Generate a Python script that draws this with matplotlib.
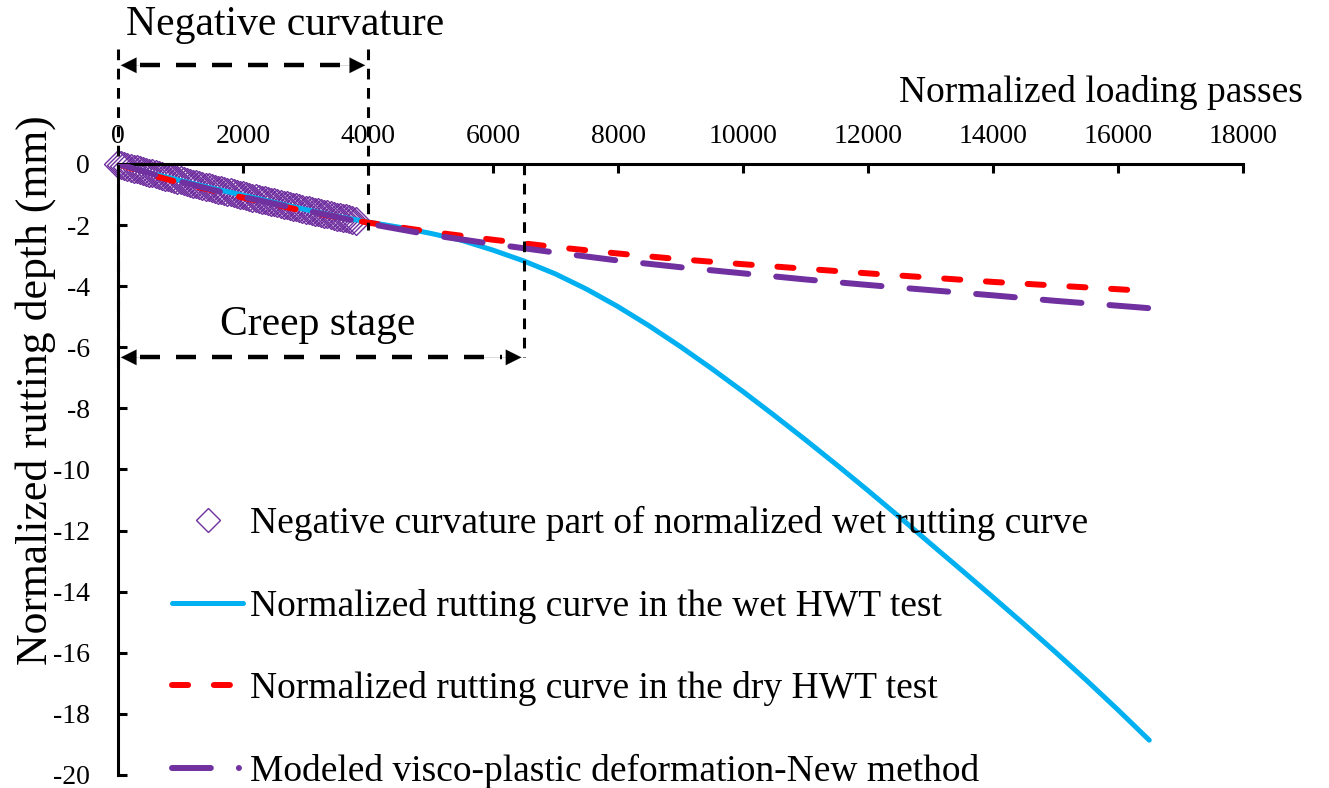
"""
Normalized rutting curves: wet vs. dry HWT test and modeled visco-plastic deformation.
Output: out.png
"""
import matplotlib
matplotlib.use("Agg")
import matplotlib.pyplot as plt
from matplotlib.lines import Line2D

plt.rcParams["font.family"] = ["Liberation Serif", "DejaVu Serif"]
plt.rcParams["axes.unicode_minus"] = False

PURPLE = "#7030A0"
CYAN = "#00B0F0"
RED = "#FF0000"

# 負曲率部分 (湿潤試験の正規化曲線, 0-3800 passes, 50 passes 毎)
neg_x = list(range(0, 3801, 50))
neg_y = [0.00, -0.03, -0.07, -0.10, -0.12, -0.15, -0.18, -0.21, -0.23, -0.26,
         -0.29, -0.31, -0.34, -0.36, -0.39, -0.41, -0.44, -0.47, -0.49, -0.52,
         -0.54, -0.57, -0.59, -0.62, -0.64, -0.67, -0.69, -0.72, -0.74, -0.76,
         -0.79, -0.81, -0.84, -0.86, -0.88, -0.91, -0.93, -0.95, -0.98, -1.00,
         -1.02, -1.05, -1.07, -1.10, -1.12, -1.14, -1.17, -1.19, -1.21, -1.24,
         -1.26, -1.28, -1.30, -1.33, -1.35, -1.37, -1.40, -1.42, -1.44, -1.47,
         -1.49, -1.51, -1.53, -1.56, -1.58, -1.60, -1.63, -1.65, -1.67, -1.70,
         -1.72, -1.74, -1.76, -1.78, -1.80, -1.83, -1.85]

# 湿潤 HWT 試験
wet_x = [0, 500, 1000, 1500, 2000, 2500, 3000, 3500, 4000, 4500,
         5000, 5500, 6000, 6500, 7000, 7500, 8000, 8500, 9000, 9500,
         10000, 10500, 11000, 11500, 12000, 12500, 13000, 13500, 14000, 14500,
         15000, 15500, 16000, 16500]
wet_y = [0.0, -0.29, -0.54, -0.79, -1.02, -1.26, -1.49, -1.71, -1.90, -2.07,
         -2.27, -2.50, -2.82, -3.18, -3.60, -4.10, -4.67, -5.30, -5.98, -6.70,
         -7.45, -8.23, -9.03, -9.85, -10.69, -11.55, -12.43, -13.30, -14.18, -15.07,
         -15.98, -16.91, -17.87, -18.86]

# 乾燥 HWT 試験
dry_x = [0, 500, 1000, 2000, 3000, 4000, 5000, 6000, 7000, 8000,
         9000, 10000, 11000, 12000, 13000, 14000, 15000, 16000, 16500]
dry_y = [0.0, -0.34, -0.62, -1.10, -1.55, -1.92, -2.22, -2.48, -2.72, -2.93,
         -3.12, -3.28, -3.43, -3.58, -3.72, -3.86, -3.98, -4.10, -4.16]

# 粘塑性変形モデル (New method)
model_x = [0, 500, 1000, 1500, 2000, 3000, 4000, 5000, 6000, 7000,
           8000, 9000, 10000, 11000, 12000, 13000, 14000, 15000, 16000, 16500]
model_y = [0.0, -0.30, -0.58, -0.84, -1.08, -1.52, -1.95, -2.32, -2.62, -2.90,
           -3.16, -3.38, -3.58, -3.78, -3.96, -4.13, -4.30, -4.48, -4.64, -4.72]

labels = [
    "Negative curvature part of normalized wet rutting curve",
    "Normalized rutting curve in the wet HWT test",
    "Normalized rutting curve in the dry HWT test",
    "Modeled visco-plastic deformation-New method",
]

x_ticks = list(range(0, 18001, 2000))
y_ticks = list(range(-20, 1, 2))

# 区間境界 (passes)
NEG_CURV_END = 4000
CREEP_END = 6500


def dashed_arrow(ax, x0, x1, y):
    """両端矢印付きの破線"""
    ax.plot([x0 + 350, x1 - 350], [y, y], color="black", lw=3.2,
            dashes=(4.5, 3.6), clip_on=False, zorder=6)
    for tip, tail in ((x0, x0 + 700), (x1, x1 - 700)):
        ax.annotate("", xy=(tip, y), xytext=(tail, y),
                    arrowprops=dict(arrowstyle="-|>", color="black", lw=0.1,
                                    mutation_scale=28),
                    annotation_clip=False, zorder=6)


fig = plt.figure(figsize=(13.29, 7.88), dpi=100)
ax = fig.add_axes([0.0888, 0.0165, 0.8465, 0.7754])

ax.plot(neg_x, neg_y, linestyle="none", marker="D", markersize=14.5,
        markerfacecolor="none", markeredgecolor=PURPLE, markeredgewidth=1.0,
        zorder=2, clip_on=False)
ax.plot(wet_x, wet_y, color=CYAN, lw=3.6, solid_capstyle="round",
        solid_joinstyle="round", zorder=3)
ax.plot(dry_x, dry_y, color=RED, lw=4.3, dashes=(2.7, 4.3),
        dash_capstyle="round", zorder=4)
ax.plot(model_x, model_y, color=PURPLE, lw=4.3, dashes=(6.5, 4.7),
        dash_capstyle="round", zorder=5)

ax.set_xlim(0, 18000)
ax.set_ylim(-20, 0)
ax.set_xticks(x_ticks)
ax.set_yticks(y_ticks)
ax.xaxis.set_ticks_position("top")
ax.tick_params(axis="x", direction="in", length=6.5, width=2.2, pad=11, labelsize=20)
ax.tick_params(axis="y", direction="in", length=6.5, width=2.2, pad=20, labelsize=20)
for side in ("right", "bottom"):
    ax.spines[side].set_visible(False)
for side in ("left", "top"):
    ax.spines[side].set_linewidth(2.2)

fig.text(0.980, 0.882, "Normalized loading passes", ha="right", va="center", fontsize=27)
fig.text(0.027, 0.505, "Normalized rutting depth (mm)", ha="center", va="center",
         rotation=90, fontsize=31.5)

# 負曲率区間
ax.plot([0, 0], [3.78, -6.7], color="black", lw=2.2, dashes=(3.5, 2.8),
        clip_on=False, zorder=6)
ax.plot([NEG_CURV_END, NEG_CURV_END], [3.78, -2.15], color="black", lw=2.2,
        dashes=(3.5, 2.8), clip_on=False, zorder=6)
dashed_arrow(ax, 0, NEG_CURV_END, 3.23)
fig.text(285 / 1329, 1 - 25 / 788, "Negative curvature", ha="center", va="center",
         fontsize=30)

# クリープ区間
ax.plot([CREEP_END, CREEP_END], [0, -6.33], color="black", lw=2.2, dashes=(3.5, 2.8),
        clip_on=False, zorder=6)
dashed_arrow(ax, 0, CREEP_END, -6.33)
ax.text(3200, -5.25, "Creep stage", ha="center", va="center", fontsize=30)

handles = [
    Line2D([], [], linestyle="none", marker="D", markersize=12,
           markerfacecolor="none", markeredgecolor=PURPLE, markeredgewidth=1.0),
    Line2D([], [], color=CYAN, lw=3.6, solid_capstyle="round"),
    Line2D([], [], color=RED, lw=4.3, dashes=(2.7, 4.3), dash_capstyle="round"),
    Line2D([], [], color=PURPLE, lw=4.3, dashes=(6.5, 4.7, 0.01, 4.7),
           dash_capstyle="round"),
]
fig.legend(handles, labels, loc="upper left", bbox_to_anchor=(172 / 1329, 1 - 506 / 788),
           frameon=False, fontsize=27, handlelength=1.9, handletextpad=0.19,
           labelspacing=1.27, borderpad=0, borderaxespad=0)

fig.savefig("out.png", dpi=100)
plt.close(fig)
